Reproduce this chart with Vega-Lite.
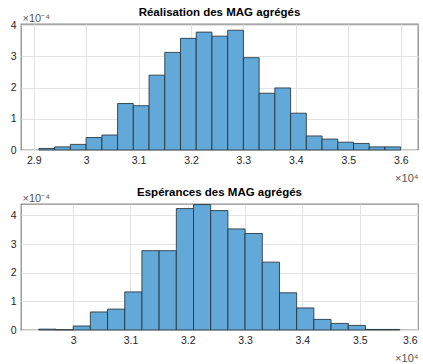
{
  "$schema": "https://vega.github.io/schema/vega-lite/v6.json",
  "padding": {"left": 9, "top": 5, "right": 2, "bottom": 0},
  "background": "white",
  "config": {
    "font": "Liberation Sans",
    "view": {"stroke": "#8c8c8c", "strokeWidth": 1.3},
    "axis": {"labelFont": "Liberation Sans", "labelFontSize": 10.5, "labelColor": "#262626", "gridColor": "#e3e3e3", "gridWidth": 1, "domain": false, "ticks": false, "labelPadding": 5, "titleFont": "Liberation Sans", "titleFontWeight": "normal", "titleFontSize": 11, "titleColor": "#555555"},
    "title": {"fontSize": 11.5, "fontWeight": "bold", "color": "#000000", "offset": -6, "frame": "group", "font": "Liberation Sans"},
    "concat": {"spacing": 1}
  },
  "datasets": {
    "real": [
      {"x0": 29100, "x1": 29400, "d": 0.000005},
      {"x0": 29400, "x1": 29700, "d": 0.000010},
      {"x0": 29700, "x1": 30000, "d": 0.000018},
      {"x0": 30000, "x1": 30300, "d": 0.000040},
      {"x0": 30300, "x1": 30600, "d": 0.000048},
      {"x0": 30600, "x1": 30900, "d": 0.000149},
      {"x0": 30900, "x1": 31200, "d": 0.000142},
      {"x0": 31200, "x1": 31500, "d": 0.000240},
      {"x0": 31500, "x1": 31800, "d": 0.000313},
      {"x0": 31800, "x1": 32100, "d": 0.000358},
      {"x0": 32100, "x1": 32400, "d": 0.000378},
      {"x0": 32400, "x1": 32700, "d": 0.000365},
      {"x0": 32700, "x1": 33000, "d": 0.000384},
      {"x0": 33000, "x1": 33300, "d": 0.000296},
      {"x0": 33300, "x1": 33600, "d": 0.000182},
      {"x0": 33600, "x1": 33900, "d": 0.000199},
      {"x0": 33900, "x1": 34200, "d": 0.000118},
      {"x0": 34200, "x1": 34500, "d": 0.000045},
      {"x0": 34500, "x1": 34800, "d": 0.000035},
      {"x0": 34800, "x1": 35100, "d": 0.000025},
      {"x0": 35100, "x1": 35400, "d": 0.000021},
      {"x0": 35400, "x1": 35700, "d": 0.000010},
      {"x0": 35700, "x1": 36000, "d": 0.000010}
    ],
    "esp": [
      {"x0": 29400, "x1": 29700, "d": 0.000003},
      {"x0": 29700, "x1": 30000, "d": 0.000001},
      {"x0": 30000, "x1": 30300, "d": 0.000014},
      {"x0": 30300, "x1": 30600, "d": 0.000063},
      {"x0": 30600, "x1": 30900, "d": 0.000073},
      {"x0": 30900, "x1": 31200, "d": 0.000133},
      {"x0": 31200, "x1": 31500, "d": 0.000277},
      {"x0": 31500, "x1": 31800, "d": 0.000277},
      {"x0": 31800, "x1": 32100, "d": 0.000424},
      {"x0": 32100, "x1": 32400, "d": 0.000438},
      {"x0": 32400, "x1": 32700, "d": 0.000417},
      {"x0": 32700, "x1": 33000, "d": 0.000353},
      {"x0": 33000, "x1": 33300, "d": 0.000337},
      {"x0": 33300, "x1": 33600, "d": 0.000237},
      {"x0": 33600, "x1": 33900, "d": 0.000130},
      {"x0": 33900, "x1": 34200, "d": 0.000077},
      {"x0": 34200, "x1": 34500, "d": 0.000037},
      {"x0": 34500, "x1": 34800, "d": 0.000023},
      {"x0": 34800, "x1": 35100, "d": 0.000016},
      {"x0": 35100, "x1": 35400, "d": 0.000002},
      {"x0": 35400, "x1": 35700, "d": 0.000002}
    ]
  },
  "vconcat": [
    {
      "width": 397,
      "height": 126,
      "title": "Réalisation des MAG agrégés",
      "data": {"name": "real"},
      "mark": {"type": "rect", "fill": "#62a8d8", "stroke": "#26323a", "strokeWidth": 1, "strokeOpacity": 0.85},
      "encoding": {
        "x": {"field": "x0", "type": "quantitative", "scale": {"domain": [28758, 36330], "nice": false, "zero": false},
          "axis": {"values": [29000, 30000, 31000, 32000, 33000, 34000, 35000, 36000], "labelExpr": "format(datum.value/10000,'~g')", "title": "×10⁴", "titleAngle": 0, "titleAlign": "right", "titleBaseline": "alphabetic", "titleX": 397, "titleY": 31}},
        "x2": {"field": "x1"},
        "y": {"field": "d", "type": "quantitative", "scale": {"domain": [0, 0.000404], "nice": false},
          "axis": {"values": [0, 0.0001, 0.0002, 0.0003, 0.0004], "labelExpr": "format(datum.value*10000,'.0f')", "title": "×10⁻⁴", "titleAngle": 0, "titleAlign": "left", "titleBaseline": "alphabetic", "titleX": 1, "titleY": -3}},
        "y2": {"datum": 0}
      }
    },
    {
      "width": 397,
      "height": 126,
      "title": "Espérances des MAG agrégés",
      "data": {"name": "esp"},
      "mark": {"type": "rect", "fill": "#62a8d8", "stroke": "#26323a", "strokeWidth": 1, "strokeOpacity": 0.85},
      "encoding": {
        "x": {"field": "x0", "type": "quantitative", "scale": {"domain": [29090, 36017], "nice": false, "zero": false},
          "axis": {"values": [30000, 31000, 32000, 33000, 34000, 35000, 36000], "labelExpr": "format(datum.value/10000,'~g')", "title": "×10⁴", "titleAngle": 0, "titleAlign": "right", "titleBaseline": "alphabetic", "titleX": 397, "titleY": 31}},
        "x2": {"field": "x1"},
        "y": {"field": "d", "type": "quantitative", "scale": {"domain": [0, 0.00044], "nice": false},
          "axis": {"values": [0, 0.0001, 0.0002, 0.0003, 0.0004], "labelExpr": "format(datum.value*10000,'.0f')", "title": "×10⁻⁴", "titleAngle": 0, "titleAlign": "left", "titleBaseline": "alphabetic", "titleX": 1, "titleY": -3}},
        "y2": {"datum": 0}
      }
    }
  ]
}
